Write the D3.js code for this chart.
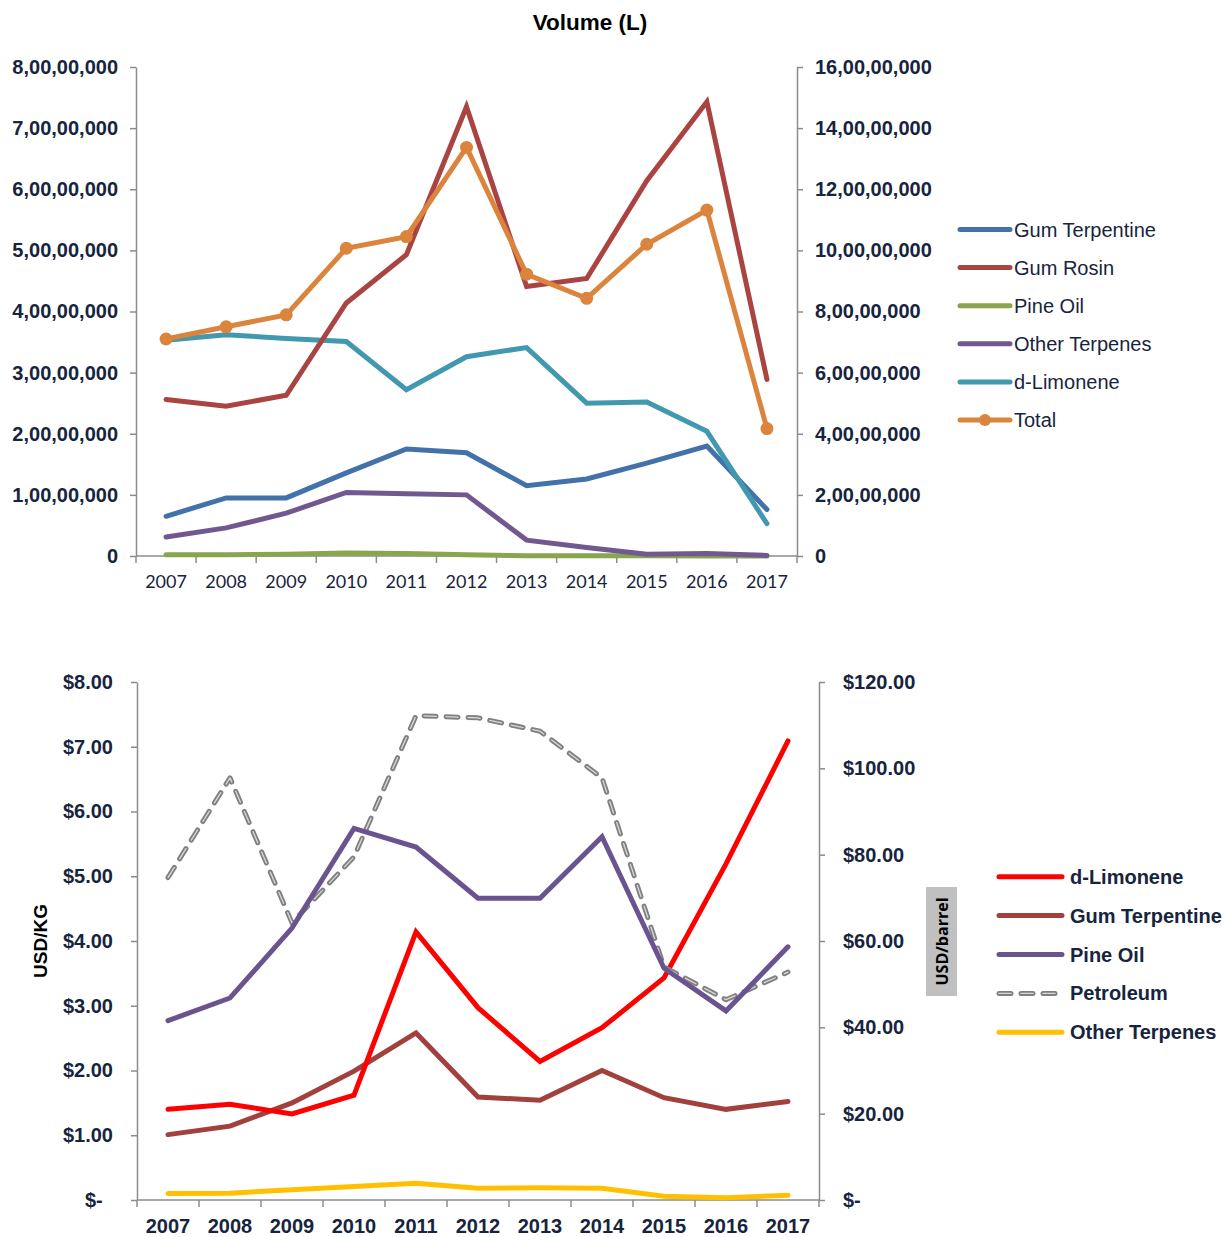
<!DOCTYPE html>
<html>
<head>
<meta charset="utf-8">
<script src="https://cdn.jsdelivr.net/npm/d3@7/dist/d3.min.js"></script>
<style>
  html, body { margin: 0; padding: 0; background: #fff; }
  svg { display: block; }
</style>
</head>
<body>
<svg id="chart" width="1224" height="1237"></svg>
<script>
// ---------------- DATA ----------------
const years = ["2007","2008","2009","2010","2011","2012","2013","2014","2015","2016","2017"];

// Volume (L) – left axis (crore = 1e7)
const volGumTerpentine = [0.65e7, 0.95e7, 0.95e7, 1.36e7, 1.75e7, 1.69e7, 1.15e7, 1.26e7, 1.52e7, 1.80e7, 0.76e7];
const volGumRosin      = [2.56e7, 2.45e7, 2.63e7, 4.14e7, 4.93e7, 7.35e7, 4.41e7, 4.54e7, 6.14e7, 7.43e7, 2.89e7];
const volPineOil       = [0.02e7, 0.02e7, 0.03e7, 0.05e7, 0.04e7, 0.02e7, 0.005e7, 0.005e7, 0.005e7, 0.0, 0.0];
const volOtherTerpenes = [0.31e7, 0.46e7, 0.70e7, 1.04e7, 1.02e7, 1.00e7, 0.26e7, 0.14e7, 0.03e7, 0.04e7, 0.01e7];
const volDLimonene     = [3.53e7, 3.62e7, 3.56e7, 3.51e7, 2.72e7, 3.26e7, 3.41e7, 2.50e7, 2.52e7, 2.04e7, 0.53e7];
// Total – right axis
const volTotal         = [7.10e7, 7.50e7, 7.89e7, 10.07e7, 10.45e7, 13.37e7, 9.22e7, 8.43e7, 10.20e7, 11.32e7, 4.17e7];

const volLeftTicks  = [0, 1e7, 2e7, 3e7, 4e7, 5e7, 6e7, 7e7, 8e7];
const volRightTicks = [0, 2e7, 4e7, 6e7, 8e7, 10e7, 12e7, 14e7, 16e7];

// Prices – left axis USD/KG
const prDLimonene      = [1.40, 1.48, 1.33, 1.62, 4.14, 2.97, 2.14, 2.66, 3.43, 5.19, 7.09];
const prGumTerpentine  = [1.01, 1.14, 1.50, 1.99, 2.58, 1.59, 1.54, 2.00, 1.58, 1.40, 1.52];
const prPineOil        = [2.77, 3.12, 4.20, 5.74, 5.45, 4.66, 4.66, 5.61, 3.58, 2.92, 3.91];
const prOtherTerpenes  = [0.10, 0.105, 0.16, 0.21, 0.26, 0.18, 0.19, 0.18, 0.057, 0.034, 0.074];
// Petroleum – right axis USD/barrel
const prPetroleum      = [74.7, 97.8, 64.2, 79.5, 112.2, 111.7, 108.6, 97.8, 54.0, 46.4, 52.8];

const prLeftTicks  = [0, 1, 2, 3, 4, 5, 6, 7, 8];
const prRightTicks = [0, 20, 40, 60, 80, 100, 120];

// ---------------- HELPERS ----------------
const navy = "#17243d";
const axisGray = "#8c8c8c";
const boldFont = "'Liberation Sans', Arial, sans-serif";

function indian(n) {
  if (n === 0) return "0";
  let s = String(Math.round(n));
  let last3 = s.slice(-3), rest = s.slice(0, -3);
  if (rest.length) rest = rest.replace(/\B(?=(\d{2})+(?!\d))/g, ",") + ",";
  return rest + last3;
}
const usd = v => v === 0 ? "$-" : "$" + d3.format(",.2f")(v);

const svg = d3.select("#chart");

function styleAxis(g) {
  g.select(".domain").attr("stroke", axisGray).attr("stroke-width", 1.5);
  g.selectAll(".tick line").attr("stroke", axisGray).attr("stroke-width", 1.5);
  g.selectAll(".tick text")
    .attr("fill", navy)
    .style("font-family", boldFont)
    .style("font-weight", "bold")
    .style("font-size", "20px");
}

function xAxisBand(g, x, y, labelFont, labelWeight, labelSize, labelDy) {
  const step = x.step();
  const bounds = years.map(d => x(d)).concat([x(years[years.length-1]) + step]);
  const r = x.range();
  g.append("line").attr("x1", r[0]).attr("x2", r[1]).attr("y1", y).attr("y2", y)
    .attr("stroke", axisGray).attr("stroke-width", 1.5);
  g.selectAll("line.bt").data(bounds).join("line").attr("class", "bt")
    .attr("x1", d => d).attr("x2", d => d).attr("y1", y).attr("y2", y + 7)
    .attr("stroke", axisGray).attr("stroke-width", 1.5);
  g.selectAll("text.xl").data(years).join("text").attr("class", "xl")
    .attr("x", d => x(d) + step / 2).attr("y", y + labelDy)
    .attr("text-anchor", "middle")
    .attr("fill", navy)
    .style("font-family", labelFont).style("font-weight", labelWeight).style("font-size", labelSize)
    .text(d => d);
}

// ---------------- TOP CHART: Volume ----------------
(function() {
  const left = 136, right = 797, top = 67, bottom = 556;
  const x = d3.scaleBand().domain(years).range([left, right]).padding(0);
  const yL = d3.scaleLinear().domain([0, 8e7]).range([bottom, top]);
  const yR = d3.scaleLinear().domain([0, 16e7]).range([bottom, top]);
  const cx = d => x(d) + x.step() / 2;

  svg.append("text").attr("x", 590).attr("y", 30).attr("text-anchor", "middle")
    .attr("fill", "#000")
    .style("font-family", boldFont).style("font-weight", "bold").style("font-size", "22.5px")
    .text("Volume (L)");

  const gl = svg.append("g").attr("transform", `translate(${left},0)`)
    .call(d3.axisLeft(yL).tickValues(volLeftTicks).tickFormat(indian).tickSize(6).tickSizeOuter(0).tickPadding(12));
  styleAxis(gl);
  const gr = svg.append("g").attr("transform", `translate(${right},0)`)
    .call(d3.axisRight(yR).tickValues(volRightTicks).tickFormat(indian).tickSize(6).tickSizeOuter(0).tickPadding(12));
  styleAxis(gr);

  xAxisBand(svg.append("g"), x, bottom, "Lato, 'Open Sans', sans-serif", "normal", "18px", 32);

  const series = [
    { name: "Gum Terpentine", vals: volGumTerpentine, color: "#4372aa", axis: yL },
    { name: "Gum Rosin",      vals: volGumRosin,      color: "#aa4442", axis: yL },
    { name: "Pine Oil",       vals: volPineOil,       color: "#89a54e", axis: yL },
    { name: "Other Terpenes", vals: volOtherTerpenes, color: "#71588f", axis: yL },
    { name: "d-Limonene",     vals: volDLimonene,     color: "#4198af", axis: yL },
    { name: "Total",          vals: volTotal,         color: "#db843d", axis: yR, marker: true }
  ];
  const drawOrder = [2, 3, 0, 4, 1, 5];
  drawOrder.forEach(i => {
    const s = series[i];
    const line = d3.line().x((d, j) => cx(years[j])).y(d => s.axis(d));
    svg.append("path").datum(s.vals).attr("d", line)
      .attr("fill", "none").attr("stroke", s.color).attr("stroke-width", 5)
      .attr("stroke-linejoin", "miter").attr("stroke-linecap", "round");
    if (s.marker) {
      svg.append("g").selectAll("circle").data(s.vals).join("circle")
        .attr("cx", (d, j) => cx(years[j])).attr("cy", d => s.axis(d)).attr("r", 6.5)
        .attr("fill", s.color);
    }
  });

  // legend
  const lg = svg.append("g");
  const ly0 = 229.5, ldy = 38.1;
  series.forEach((s, i) => {
    const y = ly0 + i * ldy;
    lg.append("line").attr("x1", 960).attr("x2", 1010).attr("y1", y).attr("y2", y)
      .attr("stroke", s.color).attr("stroke-width", 5).attr("stroke-linecap", "round");
    if (s.marker) lg.append("circle").attr("cx", 985).attr("cy", y).attr("r", 6).attr("fill", s.color);
    lg.append("text").attr("x", 1014).attr("y", y + 7).attr("fill", navy)
      .style("font-family", "'Liberation Sans', Arial, sans-serif").style("font-size", "20px")
      .text(s.name);
  });
})();

// ---------------- BOTTOM CHART: Prices ----------------
(function() {
  const left = 137, right = 819, top = 682, bottom = 1200;
  const x = d3.scaleBand().domain(years).range([left, right]).padding(0);
  const yL = d3.scaleLinear().domain([0, 8]).range([bottom, top]);
  const yR = d3.scaleLinear().domain([0, 120]).range([bottom, top]);
  const cx = d => x(d) + x.step() / 2;

  const gl = svg.append("g").attr("transform", `translate(${left},0)`)
    .call(d3.axisLeft(yL).tickValues(prLeftTicks).tickFormat(usd).tickSize(6).tickSizeOuter(0).tickPadding(18));
  styleAxis(gl);
  gl.selectAll(".tick text").filter(d => d === 0).attr("text-anchor", "start").attr("x", -52);
  const gr = svg.append("g").attr("transform", `translate(${right},0)`)
    .call(d3.axisRight(yR).tickValues(prRightTicks).tickFormat(usd).tickSize(6).tickSizeOuter(0).tickPadding(18));
  styleAxis(gr);

  xAxisBand(svg.append("g"), x, bottom, boldFont, "bold", "20px", 33);

  // axis titles
  svg.append("text").attr("transform", "translate(47,941) rotate(-90)").attr("text-anchor", "middle")
    .attr("fill", "#000")
    .style("font-family", boldFont).style("font-weight", "bold").style("font-size", "19px")
    .text("USD/KG");
  svg.append("rect").attr("x", 926).attr("y", 887).attr("width", 31).attr("height", 109).attr("fill", "#c0c0c0");
  svg.append("text").attr("transform", "translate(948,941.5) rotate(-90)").attr("text-anchor", "middle")
    .attr("fill", "#000")
    .style("font-family", "'Open Sans', 'DejaVu Sans', sans-serif").style("font-weight", "bold").style("font-size", "16px")
    .text("USD/barrel");

  const series = [
    { name: "d-Limonene",     vals: prDLimonene,     color: "#ff0000", axis: yL },
    { name: "Gum Terpentine", vals: prGumTerpentine, color: "#a2403d", axis: yL },
    { name: "Pine Oil",       vals: prPineOil,       color: "#6a5490", axis: yL },
    { name: "Petroleum",      vals: prPetroleum,     color: "#808080", axis: yR, dashed: true },
    { name: "Other Terpenes", vals: prOtherTerpenes, color: "#ffc000", axis: yL }
  ];
  const drawOrder = [4, 1, 0, 3, 2];
  drawOrder.forEach(i => {
    const s = series[i];
    const line = d3.line().x((d, j) => cx(years[j])).y(d => s.axis(d));
    if (s.dashed) {
      svg.append("path").datum(s.vals).attr("d", line)
        .attr("fill", "none").attr("stroke", s.color).attr("stroke-width", 5)
        .attr("stroke-dasharray", "12,10").attr("stroke-linecap", "round").attr("stroke-linejoin", "round");
      svg.append("path").datum(s.vals).attr("d", line)
        .attr("fill", "none").attr("stroke", "#d8d8d8").attr("stroke-width", 1.3)
        .attr("stroke-dasharray", "12,10").attr("stroke-linecap", "round").attr("stroke-linejoin", "round");
    } else {
      svg.append("path").datum(s.vals).attr("d", line)
        .attr("fill", "none").attr("stroke", s.color).attr("stroke-width", 5)
        .attr("stroke-linejoin", "miter").attr("stroke-linecap", "round");
    }
  });

  const lg = svg.append("g");
  const ly0 = 876.7, ldy = 38.9;
  series.forEach((s, i) => {
    const y = ly0 + i * ldy;
    if (s.dashed) {
      lg.append("line").attr("x1", 999).attr("x2", 1062).attr("y1", y).attr("y2", y)
        .attr("stroke", s.color).attr("stroke-width", 5).attr("stroke-linecap", "round").attr("stroke-dasharray", "12,10");
      lg.append("line").attr("x1", 999).attr("x2", 1062).attr("y1", y).attr("y2", y)
        .attr("stroke", "#d8d8d8").attr("stroke-width", 1.3).attr("stroke-linecap", "round").attr("stroke-dasharray", "12,10");
    } else {
      lg.append("line").attr("x1", 999).attr("x2", 1062).attr("y1", y).attr("y2", y)
        .attr("stroke", s.color).attr("stroke-width", 5).attr("stroke-linecap", "round");
    }
    lg.append("text").attr("x", 1070).attr("y", y + 7).attr("fill", navy)
      .style("font-family", boldFont).style("font-weight", "bold").style("font-size", "20px")
      .text(s.name);
  });
})();
</script>
</body>
</html>
